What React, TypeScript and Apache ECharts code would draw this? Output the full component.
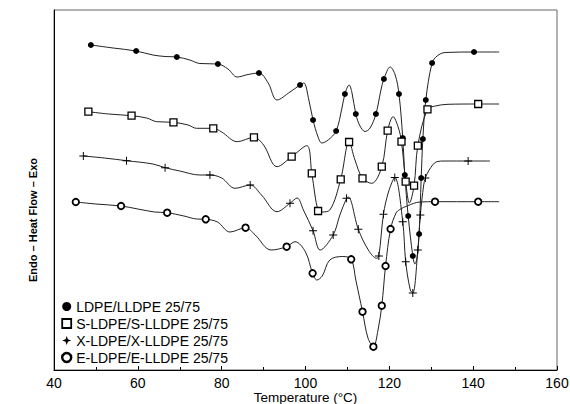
import React, { useEffect, useRef } from 'react';
import * as echarts from 'echarts';

// Temperature (°C), heat flow (a.u., endo down), marker flag
const ldpeLldpe: number[][] = [
  [48.8, 325, 1], [54.1, 322, 0], [59.6, 319, 1], [63.6, 315, 0], [66.5, 313.5, 0], [69.3, 313, 1],
  [72.4, 310, 0], [74.8, 306.5, 0], [79.1, 306, 1], [81.5, 301, 0], [83.7, 293, 0], [86.3, 295.5, 0],
  [88.9, 297, 1], [91.1, 287, 0], [93.2, 270, 0], [96.3, 278, 0], [98.7, 285, 1], [99.6, 287, 0],
  [100.8, 270, 0], [101.8, 250, 1], [103.0, 233, 0], [103.9, 227, 0], [105.4, 230, 0], [107.3, 239, 1],
  [108.7, 262, 0], [109.4, 276, 1], [110.4, 285, 0], [111.1, 277, 0], [112.0, 256, 1], [113.0, 244, 0],
  [114.2, 238.5, 0], [115.4, 242, 0], [116.8, 256, 1], [118.0, 280, 0], [118.7, 291, 1], [120.2, 303, 0],
  [121.4, 295, 0], [122.3, 276, 1], [123.2, 232, 1], [123.7, 195, 1], [124.5, 154, 1], [125.6, 114, 1],
  [126.1, 106, 0], [126.6, 112, 0], [127.1, 136, 1], [127.6, 192, 1], [128.0, 231, 1], [128.7, 270, 1],
  [130.2, 307, 1], [131.4, 314, 0], [133.3, 317.5, 0], [140.2, 318, 1], [146.2, 318, 0],
];

const sLdpe: number[][] = [
  [48.2, 258.3, 1], [53, 256, 0], [58.5, 254.3, 1], [62.1, 252, 0], [64.5, 248.3, 0], [68.5, 247.7, 1],
  [72, 245, 0], [74.0, 241.7, 0], [78.0, 241.7, 1], [80, 238, 0], [83.7, 228.3, 0], [87.7, 232.7, 1],
  [90, 225, 0], [93.2, 203.3, 0], [96.7, 213.3, 1], [100.3, 224.3, 0], [101.5, 196.7, 1], [103.0, 159, 1],
  [103.8, 158, 0], [105.8, 160, 0], [108.4, 190.7, 1], [110.4, 228, 1], [111.8, 210, 0], [113.6, 191.7, 1],
  [115.8, 186.7, 0], [118.2, 203.3, 1], [119.6, 239.3, 1], [120.9, 253.3, 0], [122.1, 243, 0],
  [122.9, 228.3, 1], [123.9, 188.3, 1], [124.8, 167, 0], [125.9, 184.3, 1], [126.8, 224.3, 1],
  [129.1, 260.7, 1], [131, 264, 0], [134, 265.7, 0], [141.2, 266, 1], [146.2, 266, 0],
];

const xLdpe: number[][] = [
  [47.0, 214, 1], [52, 212, 0], [57.3, 209.3, 1], [63.6, 206, 0], [66.5, 202.3, 1], [70, 199, 0],
  [74.8, 195, 0], [77.2, 195, 1], [80, 192, 0], [83.2, 181.7, 0], [86.8, 185, 1], [89.5, 175, 0],
  [93.2, 158.3, 0], [96.3, 166.7, 1], [98.0, 172, 0], [99.5, 160, 0], [101.8, 139.3, 1], [103.5, 120, 0],
  [106.6, 135, 1], [108.2, 155, 0], [109.8, 171.7, 1], [110.2, 173, 0], [112.6, 140.7, 1], [115, 120, 0],
  [117.0, 111.7, 0], [117.5, 114, 1], [118.6, 155.7, 1], [119.8, 178, 0], [121.3, 192.5, 1],
  [123.2, 148.3, 1], [123.9, 108.3, 1], [125.0, 80, 0], [125.6, 77, 1], [126.8, 120, 1], [127.4, 155, 1],
  [128.2, 185, 0], [128.6, 192, 1], [129.5, 200, 0], [131.3, 208.3, 0], [133.3, 209, 0], [138.8, 209, 1],
  [144.0, 209, 0],
];

const eLdpe: number[][] = [
  [45.2, 168, 1], [50, 166, 0], [56.0, 164, 1], [60, 161, 0], [64, 158, 0], [67.0, 157.3, 1],
  [71, 154, 0], [74, 151, 0], [76.2, 150.7, 1], [79, 148, 0], [82.0, 138, 0], [85.7, 142.3, 1],
  [88, 135, 0], [91.8, 120, 0], [95.5, 123.3, 1], [97.5, 128.3, 0], [100, 118, 0], [101.7, 96.7, 1],
  [102.7, 90, 0], [104, 94, 0], [105.8, 110, 0], [108.9, 113.5, 0], [110.9, 110.7, 1], [112.0, 90, 0],
  [113.6, 58.3, 1], [114.9, 32, 0], [116.2, 23.3, 1], [117.3, 40, 0], [118.2, 64.3, 1], [119.1, 104, 1],
  [120.3, 141, 1], [121.6, 157, 0], [122.5, 160.5, 0], [124.2, 164, 0], [127.3, 168, 0],
  [130.9, 168.3, 1], [141.2, 168.3, 1], [146.2, 168.3, 0],
];

const seriesNames = [
  'LDPE/LLDPE 25/75',
  'S-LDPE/S-LLDPE 25/75',
  'X-LDPE/X-LLDPE 25/75',
  'E-LDPE/E-LLDPE 25/75',
];

const xAxisName = 'Temperature (°C)';
const yAxisName = 'Endo – Heat Flow – Exo';

const FONT = '"Liberation Sans", Arial, Helvetica, sans-serif';
const PLUS = 'path://M4.4,0H5.6V4.4H10V5.6H5.6V10H4.4V5.6H0V4.4H4.4Z';
const STAR = 'path://M5,0L6.3,3.7L10,5L6.3,6.3L5,10L3.7,6.3L0,5L3.7,3.7Z';

const styles = [
  { symbol: 'circle', size: 6, item: { color: '#000' }, icon: 'circle', legendItem: { color: '#000' } },
  { symbol: 'rect', size: 7, item: { color: '#fff', borderColor: '#000', borderWidth: 1.3 }, icon: 'rect', legendItem: { color: '#fff', borderColor: '#000', borderWidth: 1.8 } },
  { symbol: PLUS, size: 8, item: { color: '#000' }, icon: STAR, legendItem: { color: '#000' } },
  { symbol: 'circle', size: 6.5, item: { color: '#fff', borderColor: '#000', borderWidth: 1.8 }, icon: 'circle', legendItem: { color: '#fff', borderColor: '#000', borderWidth: 2.4 } },
];

const datasets = [ldpeLldpe, sLdpe, xLdpe, eLdpe];

export default function App() {
  const ref = useRef<HTMLDivElement>(null);
  useEffect(() => {
    if (!ref.current) return;
    const chart = echarts.init(ref.current, null, { renderer: 'svg' });
    const series: any[] = [];
    datasets.forEach((d, i) => {
      series.push({
        name: seriesNames[i] + ' trace',
        type: 'line',
        data: d.map((p) => [p[0], p[1]]),
        smooth: 0.35,
        showSymbol: false,
        symbol: 'none',
        lineStyle: { color: '#222', width: 1 },
        z: 2,
        silent: true,
      });
    });
    datasets.forEach((d, i) => {
      const s = styles[i];
      series.push({
        name: seriesNames[i],
        type: 'scatter',
        data: d.filter((p) => p[2] === 1).map((p) => [p[0], p[1]]),
        symbol: s.symbol,
        symbolSize: s.size,
        itemStyle: { ...s.item, opacity: 1 },
        z: 3,
        silent: true,
      });
    });
    chart.setOption({
      animation: false,
      backgroundColor: '#fff',
      grid: {
        left: 54, right: 13, top: 10, bottom: 34,
        containLabel: false,
        outerBoundsMode: 'none',
        show: true, borderColor: '#666', borderWidth: 1,
      },
      xAxis: {
        type: 'value', min: 40, max: 160, interval: 20,
        name: xAxisName, nameLocation: 'middle', nameGap: 21, nameMoveOverlap: false,
        nameTextStyle: { fontFamily: FONT, fontSize: 13.5, lineHeight: 13, color: '#000' },
        axisLine: { show: true, lineStyle: { color: '#000', width: 1 } },
        axisTick: { show: true, inside: true, length: 4, lineStyle: { color: '#000' } },
        minorTick: { show: true, splitNumber: 2, length: 3, lineStyle: { color: '#000' } },
        axisLabel: { fontFamily: FONT, fontSize: 14, lineHeight: 14, color: '#000', margin: 6 },
        splitLine: { show: false },
      },
      yAxis: {
        type: 'value', min: 0, max: 360,
        axisLine: { show: true, lineStyle: { color: '#000', width: 1 } },
        axisTick: { show: false },
        axisLabel: { show: false },
        splitLine: { show: false },
      },
      legend: {
        orient: 'vertical', left: 61, top: 299, padding: 0,
        itemWidth: 9, itemHeight: 9, itemGap: 2,
        textStyle: { fontFamily: FONT, fontSize: 14, color: '#000', lineHeight: 15 },
        data: seriesNames.map((n, i) => ({ name: n, icon: styles[i].icon, itemStyle: styles[i].legendItem })),
        selectedMode: false,
      },
      graphic: [
        {
          type: 'text', x: 33, y: 220, rotation: Math.PI / 2,
          style: {
            text: yAxisName, fontFamily: FONT, fontSize: 11, fontWeight: 'bold', fill: '#000',
            align: 'center', verticalAlign: 'middle', textAlign: 'center', textVerticalAlign: 'middle',
          },
        },
      ],
      series,
    });
    return () => chart.dispose();
  }, []);
  return <div ref={ref} style={{ position: 'fixed', left: 0, top: 0, width: 570, height: 404, background: '#fff' }} />;
}
